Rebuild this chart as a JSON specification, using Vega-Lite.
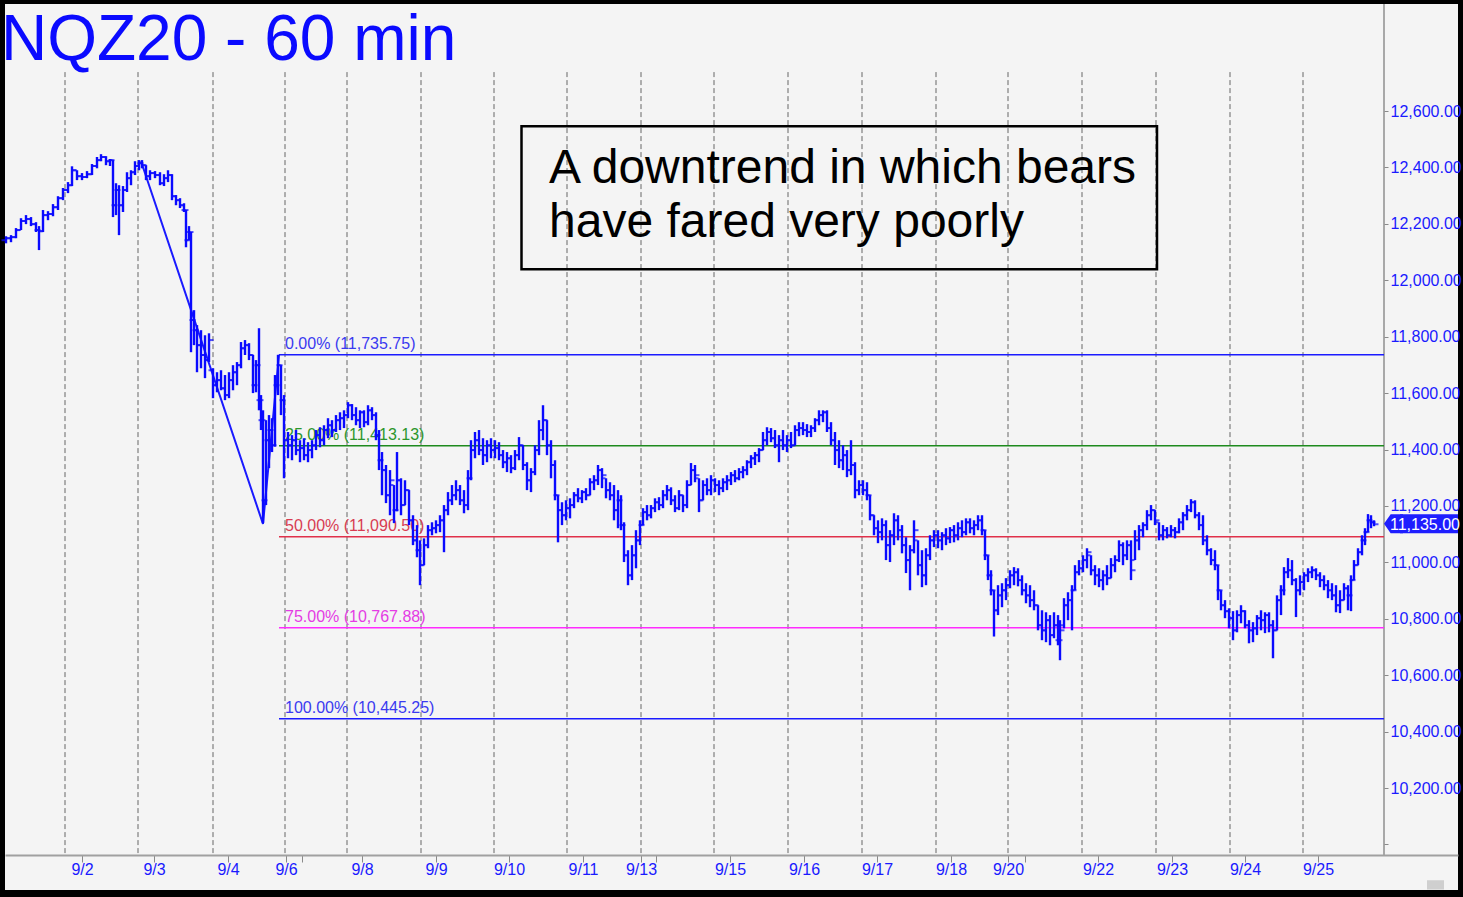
{
"$schema": "https://vega.github.io/schema/vega-lite/v6.json",
"width": 1453, "height": 886,
"autosize": {"type": "none"},
"padding": {"left": 5, "top": 4, "right": 5, "bottom": 7},
"background": "#000000",
"config": {"view": {"fill": "#f4f4f4", "stroke": null}, "font": "Liberation Sans"},
"resolve": {"axis": {"x": "independent", "y": "independent"}},
"datasets": {
"days": [{"t":65},{"t":138},{"t":213},{"t":285},{"t":347},{"t":421},{"t":494},{"t":567},{"t":641},{"t":714},{"t":788},{"t":862},{"t":936},{"t":1008},{"t":1082},{"t":1156},{"t":1230},{"t":1303}],
"fib": [{"level":"0.00%","price":11735.75,"label":"0.00% (11,735.75)"},{"level":"25.00%","price":11413.13,"label":"25.00% (11,413.13)"},{"level":"50.00%","price":11090.5,"label":"50.00% (11,090.50)"},{"level":"75.00%","price":10767.88,"label":"75.00% (10,767.88)"},{"level":"100.00%","price":10445.25,"label":"100.00% (10,445.25)"}],
"zig": [{"t":141,"p":12422},{"t":263,"p":11136},{"t":279,"p":11735.75}],
"bars": [
{"t":6,"o":12142,"h":12156,"l":12131,"c":12149},
{"t":11,"o":12149,"h":12160,"l":12135,"c":12153},
{"t":16,"o":12153,"h":12185,"l":12149,"c":12178},
{"t":21,"o":12178,"h":12220,"l":12178,"c":12210},
{"t":26,"o":12210,"h":12231,"l":12199,"c":12217},
{"t":31,"o":12217,"h":12224,"l":12192,"c":12199},
{"t":36,"o":12199,"h":12206,"l":12171,"c":12178},
{"t":39,"o":12178,"h":12192,"l":12107,"c":12174},
{"t":43,"o":12174,"h":12249,"l":12171,"c":12231},
{"t":48,"o":12231,"h":12245,"l":12213,"c":12235},
{"t":53,"o":12235,"h":12270,"l":12227,"c":12259},
{"t":58,"o":12259,"h":12298,"l":12249,"c":12291},
{"t":63,"o":12291,"h":12327,"l":12284,"c":12320},
{"t":68,"o":12320,"h":12348,"l":12309,"c":12337},
{"t":72,"o":12337,"h":12404,"l":12334,"c":12390},
{"t":77,"o":12390,"h":12390,"l":12355,"c":12369},
{"t":82,"o":12369,"h":12380,"l":12355,"c":12366},
{"t":87,"o":12366,"h":12387,"l":12362,"c":12376},
{"t":92,"o":12376,"h":12412,"l":12373,"c":12405},
{"t":97,"o":12405,"h":12437,"l":12397,"c":12426},
{"t":101,"o":12426,"h":12447,"l":12422,"c":12437},
{"t":106,"o":12437,"h":12440,"l":12408,"c":12422},
{"t":110,"o":12422,"h":12430,"l":12405,"c":12426},
{"t":113,"o":12426,"h":12426,"l":12224,"c":12266},
{"t":116,"o":12266,"h":12344,"l":12231,"c":12320},
{"t":119,"o":12320,"h":12337,"l":12160,"c":12266},
{"t":123,"o":12266,"h":12334,"l":12242,"c":12320},
{"t":127,"o":12320,"h":12383,"l":12313,"c":12362},
{"t":131,"o":12362,"h":12390,"l":12337,"c":12383},
{"t":135,"o":12383,"h":12422,"l":12373,"c":12405},
{"t":139,"o":12405,"h":12426,"l":12390,"c":12415},
{"t":142,"o":12415,"h":12426,"l":12397,"c":12408},
{"t":146,"o":12408,"h":12408,"l":12355,"c":12369},
{"t":150,"o":12369,"h":12390,"l":12355,"c":12380},
{"t":155,"o":12380,"h":12387,"l":12362,"c":12373},
{"t":160,"o":12373,"h":12383,"l":12337,"c":12344},
{"t":164,"o":12344,"h":12376,"l":12334,"c":12362},
{"t":168,"o":12362,"h":12390,"l":12348,"c":12373},
{"t":172,"o":12373,"h":12376,"l":12284,"c":12298},
{"t":176,"o":12298,"h":12302,"l":12266,"c":12284},
{"t":180,"o":12284,"h":12291,"l":12256,"c":12266},
{"t":184,"o":12266,"h":12273,"l":12242,"c":12249},
{"t":186,"o":12249,"h":12249,"l":12117,"c":12142},
{"t":189,"o":12142,"h":12192,"l":12142,"c":12171},
{"t":191,"o":12171,"h":12171,"l":11745,"c":11859},
{"t":194,"o":11859,"h":11894,"l":11770,"c":11823},
{"t":197,"o":11823,"h":11841,"l":11674,"c":11770},
{"t":201,"o":11770,"h":11823,"l":11688,"c":11735},
{"t":205,"o":11735,"h":11805,"l":11653,"c":11717},
{"t":209,"o":11717,"h":11812,"l":11710,"c":11788},
{"t":213,"o":11681,"h":11688,"l":11582,"c":11628},
{"t":217,"o":11628,"h":11674,"l":11603,"c":11646},
{"t":221,"o":11646,"h":11681,"l":11610,"c":11617},
{"t":225,"o":11617,"h":11664,"l":11575,"c":11593},
{"t":229,"o":11593,"h":11674,"l":11582,"c":11646},
{"t":233,"o":11646,"h":11699,"l":11610,"c":11674},
{"t":237,"o":11674,"h":11710,"l":11628,"c":11699},
{"t":241,"o":11699,"h":11781,"l":11688,"c":11759},
{"t":245,"o":11759,"h":11788,"l":11735,"c":11770},
{"t":249,"o":11770,"h":11777,"l":11717,"c":11735},
{"t":253,"o":11735,"h":11735,"l":11600,"c":11628},
{"t":256,"o":11628,"h":11717,"l":11603,"c":11699},
{"t":259,"o":11699,"h":11830,"l":11539,"c":11575},
{"t":261,"o":11575,"h":11593,"l":11469,"c":11504},
{"t":263,"o":11504,"h":11539,"l":11139,"c":11220},
{"t":266,"o":11220,"h":11504,"l":11203,"c":11433},
{"t":269,"o":11433,"h":11522,"l":11334,"c":11469},
{"t":272,"o":11469,"h":11511,"l":11391,"c":11415},
{"t":275,"o":11415,"h":11664,"l":11410,"c":11628},
{"t":278,"o":11628,"h":11735.75,"l":11593,"c":11699},
{"t":281,"o":11699,"h":11699,"l":11522,"c":11575},
{"t":284,"o":11575,"h":11593,"l":11298,"c":11433},
{"t":288,"o":11433,"h":11462,"l":11369,"c":11415},
{"t":292,"o":11415,"h":11451,"l":11362,"c":11433},
{"t":296,"o":11433,"h":11469,"l":11380,"c":11398},
{"t":300,"o":11398,"h":11433,"l":11355,"c":11405},
{"t":304,"o":11405,"h":11440,"l":11362,"c":11380},
{"t":308,"o":11380,"h":11426,"l":11355,"c":11398},
{"t":312,"o":11398,"h":11433,"l":11369,"c":11415},
{"t":316,"o":11415,"h":11469,"l":11398,"c":11451},
{"t":320,"o":11451,"h":11479,"l":11408,"c":11433},
{"t":324,"o":11433,"h":11486,"l":11415,"c":11469},
{"t":328,"o":11469,"h":11511,"l":11440,"c":11486},
{"t":332,"o":11486,"h":11504,"l":11444,"c":11469},
{"t":336,"o":11469,"h":11522,"l":11462,"c":11504},
{"t":340,"o":11504,"h":11532,"l":11469,"c":11511},
{"t":344,"o":11511,"h":11539,"l":11476,"c":11522},
{"t":348,"o":11522,"h":11568,"l":11511,"c":11557},
{"t":352,"o":11557,"h":11561,"l":11504,"c":11522},
{"t":356,"o":11522,"h":11550,"l":11486,"c":11504},
{"t":360,"o":11504,"h":11539,"l":11476,"c":11532},
{"t":364,"o":11532,"h":11539,"l":11479,"c":11497},
{"t":368,"o":11497,"h":11557,"l":11486,"c":11539},
{"t":372,"o":11539,"h":11550,"l":11504,"c":11522},
{"t":376,"o":11522,"h":11532,"l":11433,"c":11451},
{"t":379,"o":11451,"h":11469,"l":11327,"c":11362},
{"t":382,"o":11362,"h":11391,"l":11238,"c":11327},
{"t":386,"o":11327,"h":11345,"l":11210,"c":11238},
{"t":390,"o":11238,"h":11327,"l":11167,"c":11291},
{"t":394,"o":11274,"h":11274,"l":11139,"c":11185},
{"t":397,"o":11185,"h":11391,"l":11181,"c":11291},
{"t":401,"o":11291,"h":11298,"l":11167,"c":11203},
{"t":405,"o":11203,"h":11291,"l":11203,"c":11256},
{"t":409,"o":11256,"h":11256,"l":11132,"c":11149},
{"t":413,"o":11149,"h":11167,"l":11061,"c":11078},
{"t":417,"o":11078,"h":11132,"l":11018,"c":11043},
{"t":420,"o":11043,"h":11078,"l":10919,"c":10990},
{"t":424,"o":10990,"h":11085,"l":10990,"c":11061},
{"t":428,"o":11061,"h":11132,"l":11050,"c":11114},
{"t":432,"o":11114,"h":11142,"l":11096,"c":11121},
{"t":436,"o":11121,"h":11149,"l":11103,"c":11132},
{"t":440,"o":11132,"h":11167,"l":11107,"c":11149},
{"t":444,"o":11149,"h":11203,"l":11036,"c":11185},
{"t":448,"o":11185,"h":11249,"l":11167,"c":11220},
{"t":452,"o":11220,"h":11274,"l":11203,"c":11238},
{"t":456,"o":11238,"h":11291,"l":11220,"c":11256},
{"t":460,"o":11256,"h":11274,"l":11203,"c":11220},
{"t":464,"o":11220,"h":11256,"l":11174,"c":11203},
{"t":468,"o":11203,"h":11327,"l":11185,"c":11298},
{"t":471,"o":11298,"h":11433,"l":11291,"c":11398},
{"t":475,"o":11398,"h":11462,"l":11369,"c":11433},
{"t":479,"o":11433,"h":11469,"l":11380,"c":11398},
{"t":483,"o":11398,"h":11440,"l":11345,"c":11380},
{"t":487,"o":11380,"h":11433,"l":11355,"c":11415},
{"t":491,"o":11415,"h":11440,"l":11369,"c":11398},
{"t":495,"o":11398,"h":11433,"l":11369,"c":11405},
{"t":499,"o":11405,"h":11426,"l":11362,"c":11380},
{"t":503,"o":11380,"h":11398,"l":11334,"c":11355},
{"t":507,"o":11355,"h":11391,"l":11320,"c":11369},
{"t":511,"o":11369,"h":11380,"l":11316,"c":11334},
{"t":515,"o":11334,"h":11398,"l":11327,"c":11380},
{"t":519,"o":11380,"h":11444,"l":11362,"c":11415},
{"t":523,"o":11415,"h":11415,"l":11327,"c":11345},
{"t":527,"o":11345,"h":11355,"l":11256,"c":11291},
{"t":531,"o":11291,"h":11334,"l":11249,"c":11320},
{"t":535,"o":11320,"h":11415,"l":11309,"c":11398},
{"t":539,"o":11398,"h":11504,"l":11380,"c":11469},
{"t":543,"o":11469,"h":11557,"l":11433,"c":11504},
{"t":547,"o":11504,"h":11504,"l":11380,"c":11415},
{"t":551,"o":11415,"h":11433,"l":11298,"c":11345},
{"t":555,"o":11345,"h":11362,"l":11220,"c":11238},
{"t":558,"o":11238,"h":11238,"l":11071,"c":11185},
{"t":562,"o":11185,"h":11213,"l":11132,"c":11167},
{"t":566,"o":11167,"h":11220,"l":11149,"c":11192},
{"t":570,"o":11192,"h":11227,"l":11156,"c":11203},
{"t":574,"o":11203,"h":11249,"l":11192,"c":11238},
{"t":578,"o":11238,"h":11263,"l":11213,"c":11227},
{"t":582,"o":11227,"h":11256,"l":11210,"c":11249},
{"t":586,"o":11249,"h":11263,"l":11220,"c":11238},
{"t":590,"o":11238,"h":11298,"l":11238,"c":11284},
{"t":594,"o":11284,"h":11309,"l":11256,"c":11291},
{"t":598,"o":11291,"h":11345,"l":11274,"c":11327},
{"t":602,"o":11327,"h":11334,"l":11263,"c":11309},
{"t":606,"o":11298,"h":11298,"l":11227,"c":11256},
{"t":610,"o":11256,"h":11284,"l":11220,"c":11238},
{"t":614,"o":11238,"h":11274,"l":11149,"c":11185},
{"t":618,"o":11185,"h":11256,"l":11121,"c":11220},
{"t":621,"o":11220,"h":11238,"l":11114,"c":11132},
{"t":624,"o":11132,"h":11142,"l":11001,"c":11025},
{"t":628,"o":11025,"h":11043,"l":10919,"c":10954},
{"t":632,"o":10954,"h":11061,"l":10937,"c":11025},
{"t":636,"o":11025,"h":11114,"l":10979,"c":11078},
{"t":640,"o":11078,"h":11149,"l":11061,"c":11132},
{"t":643,"o":11132,"h":11192,"l":11132,"c":11178},
{"t":647,"o":11178,"h":11203,"l":11149,"c":11167},
{"t":651,"o":11167,"h":11203,"l":11156,"c":11192},
{"t":655,"o":11192,"h":11227,"l":11178,"c":11213},
{"t":659,"o":11213,"h":11231,"l":11185,"c":11203},
{"t":663,"o":11203,"h":11256,"l":11192,"c":11238},
{"t":667,"o":11238,"h":11274,"l":11220,"c":11256},
{"t":671,"o":11256,"h":11266,"l":11203,"c":11220},
{"t":675,"o":11220,"h":11238,"l":11178,"c":11192},
{"t":679,"o":11192,"h":11256,"l":11185,"c":11238},
{"t":683,"o":11238,"h":11238,"l":11178,"c":11203},
{"t":687,"o":11203,"h":11291,"l":11192,"c":11274},
{"t":691,"o":11274,"h":11352,"l":11274,"c":11327},
{"t":695,"o":11327,"h":11345,"l":11284,"c":11309},
{"t":699,"o":11298,"h":11298,"l":11178,"c":11220},
{"t":703,"o":11220,"h":11291,"l":11220,"c":11274},
{"t":707,"o":11274,"h":11298,"l":11238,"c":11256},
{"t":711,"o":11256,"h":11309,"l":11238,"c":11291},
{"t":715,"o":11291,"h":11298,"l":11249,"c":11274},
{"t":719,"o":11274,"h":11291,"l":11238,"c":11263},
{"t":723,"o":11263,"h":11298,"l":11249,"c":11284},
{"t":727,"o":11284,"h":11309,"l":11256,"c":11291},
{"t":731,"o":11291,"h":11320,"l":11274,"c":11309},
{"t":735,"o":11309,"h":11327,"l":11284,"c":11298},
{"t":739,"o":11298,"h":11334,"l":11291,"c":11320},
{"t":743,"o":11320,"h":11341,"l":11298,"c":11327},
{"t":747,"o":11327,"h":11362,"l":11309,"c":11355},
{"t":751,"o":11355,"h":11380,"l":11334,"c":11369},
{"t":755,"o":11369,"h":11391,"l":11345,"c":11380},
{"t":759,"o":11380,"h":11405,"l":11355,"c":11398},
{"t":763,"o":11398,"h":11462,"l":11398,"c":11433},
{"t":767,"o":11433,"h":11479,"l":11415,"c":11462},
{"t":771,"o":11462,"h":11476,"l":11426,"c":11440},
{"t":775,"o":11440,"h":11469,"l":11405,"c":11415},
{"t":779,"o":11415,"h":11451,"l":11355,"c":11433},
{"t":783,"o":11433,"h":11469,"l":11398,"c":11415},
{"t":787,"o":11415,"h":11451,"l":11391,"c":11433},
{"t":791,"o":11433,"h":11462,"l":11405,"c":11415},
{"t":795,"o":11415,"h":11486,"l":11415,"c":11469},
{"t":799,"o":11469,"h":11497,"l":11447,"c":11476},
{"t":803,"o":11476,"h":11497,"l":11451,"c":11469},
{"t":807,"o":11469,"h":11490,"l":11444,"c":11462},
{"t":811,"o":11462,"h":11486,"l":11444,"c":11476},
{"t":815,"o":11476,"h":11511,"l":11462,"c":11504},
{"t":819,"o":11504,"h":11539,"l":11486,"c":11522},
{"t":823,"o":11522,"h":11539,"l":11497,"c":11532},
{"t":827,"o":11532,"h":11539,"l":11462,"c":11476},
{"t":831,"o":11476,"h":11497,"l":11415,"c":11433},
{"t":835,"o":11433,"h":11462,"l":11345,"c":11398},
{"t":839,"o":11398,"h":11433,"l":11334,"c":11362},
{"t":843,"o":11362,"h":11415,"l":11327,"c":11380},
{"t":847,"o":11380,"h":11398,"l":11302,"c":11327},
{"t":851,"o":11327,"h":11433,"l":11309,"c":11345},
{"t":855,"o":11345,"h":11355,"l":11227,"c":11256},
{"t":859,"o":11256,"h":11291,"l":11238,"c":11274},
{"t":863,"o":11274,"h":11291,"l":11238,"c":11256},
{"t":867,"o":11256,"h":11284,"l":11220,"c":11238},
{"t":870,"o":11238,"h":11238,"l":11149,"c":11167},
{"t":874,"o":11167,"h":11167,"l":11096,"c":11121},
{"t":878,"o":11121,"h":11149,"l":11068,"c":11107},
{"t":882,"o":11107,"h":11156,"l":11078,"c":11132},
{"t":886,"o":11132,"h":11149,"l":11008,"c":11061},
{"t":890,"o":11061,"h":11114,"l":11001,"c":11096},
{"t":894,"o":11096,"h":11174,"l":11061,"c":11149},
{"t":898,"o":11149,"h":11167,"l":11078,"c":11114},
{"t":902,"o":11114,"h":11132,"l":11032,"c":11061},
{"t":906,"o":11061,"h":11089,"l":10962,"c":11008},
{"t":910,"o":11008,"h":11061,"l":10901,"c":11043},
{"t":914,"o":11043,"h":11149,"l":11032,"c":11114},
{"t":918,"o":11078,"h":11078,"l":10954,"c":10990},
{"t":922,"o":10990,"h":11043,"l":10912,"c":10954},
{"t":926,"o":10954,"h":11050,"l":10919,"c":11025},
{"t":930,"o":11025,"h":11096,"l":11008,"c":11078},
{"t":934,"o":11078,"h":11114,"l":11054,"c":11096},
{"t":938,"o":11096,"h":11114,"l":11050,"c":11078},
{"t":942,"o":11078,"h":11107,"l":11043,"c":11096},
{"t":946,"o":11096,"h":11121,"l":11061,"c":11085},
{"t":950,"o":11085,"h":11125,"l":11068,"c":11114},
{"t":954,"o":11114,"h":11132,"l":11071,"c":11096},
{"t":958,"o":11096,"h":11142,"l":11078,"c":11121},
{"t":962,"o":11121,"h":11149,"l":11089,"c":11107},
{"t":966,"o":11107,"h":11156,"l":11096,"c":11142},
{"t":970,"o":11142,"h":11156,"l":11103,"c":11121},
{"t":974,"o":11121,"h":11149,"l":11096,"c":11132},
{"t":978,"o":11132,"h":11167,"l":11114,"c":11149},
{"t":982,"o":11149,"h":11167,"l":11096,"c":11114},
{"t":985,"o":11114,"h":11114,"l":11008,"c":11025},
{"t":988,"o":11025,"h":11025,"l":10937,"c":10954},
{"t":991,"o":10954,"h":10972,"l":10883,"c":10901},
{"t":994,"o":10901,"h":10901,"l":10737,"c":10830},
{"t":998,"o":10830,"h":10919,"l":10813,"c":10883},
{"t":1002,"o":10883,"h":10926,"l":10841,"c":10901},
{"t":1006,"o":10901,"h":10944,"l":10866,"c":10919},
{"t":1010,"o":10919,"h":10972,"l":10908,"c":10954},
{"t":1014,"o":10954,"h":10983,"l":10919,"c":10965},
{"t":1018,"o":10965,"h":10979,"l":10915,"c":10937},
{"t":1022,"o":10937,"h":10954,"l":10883,"c":10901},
{"t":1026,"o":10901,"h":10926,"l":10855,"c":10883},
{"t":1030,"o":10883,"h":10919,"l":10841,"c":10866},
{"t":1034,"o":10866,"h":10901,"l":10830,"c":10848},
{"t":1038,"o":10848,"h":10848,"l":10759,"c":10777},
{"t":1042,"o":10777,"h":10830,"l":10724,"c":10759},
{"t":1046,"o":10759,"h":10823,"l":10717,"c":10795},
{"t":1050,"o":10795,"h":10813,"l":10706,"c":10742},
{"t":1054,"o":10742,"h":10823,"l":10731,"c":10777},
{"t":1058,"o":10777,"h":10813,"l":10706,"c":10724},
{"t":1060,"o":10724,"h":10795,"l":10653,"c":10759},
{"t":1064,"o":10777,"h":10873,"l":10766,"c":10848},
{"t":1068,"o":10848,"h":10894,"l":10795,"c":10866},
{"t":1072,"o":10866,"h":10919,"l":10759,"c":10901},
{"t":1075,"o":10901,"h":10990,"l":10901,"c":10965},
{"t":1079,"o":10965,"h":11008,"l":10954,"c":10979},
{"t":1083,"o":10979,"h":11025,"l":10965,"c":11008},
{"t":1087,"o":11008,"h":11050,"l":10979,"c":11036},
{"t":1091,"o":11025,"h":11025,"l":10954,"c":10972},
{"t":1095,"o":10972,"h":10990,"l":10919,"c":10954},
{"t":1099,"o":10954,"h":10979,"l":10912,"c":10937},
{"t":1103,"o":10937,"h":10972,"l":10901,"c":10954},
{"t":1107,"o":10954,"h":10990,"l":10919,"c":10944},
{"t":1111,"o":10944,"h":11015,"l":10944,"c":10990},
{"t":1115,"o":10990,"h":11025,"l":10965,"c":11008},
{"t":1119,"o":11008,"h":11078,"l":11001,"c":11061},
{"t":1123,"o":11061,"h":11071,"l":10990,"c":11025},
{"t":1127,"o":11025,"h":11078,"l":11008,"c":11061},
{"t":1131,"o":11061,"h":11078,"l":10937,"c":10972},
{"t":1135,"o":11008,"h":11114,"l":11008,"c":11078},
{"t":1139,"o":11078,"h":11132,"l":11043,"c":11114},
{"t":1143,"o":11114,"h":11142,"l":11089,"c":11132},
{"t":1147,"o":11132,"h":11185,"l":11114,"c":11167},
{"t":1151,"o":11167,"h":11203,"l":11149,"c":11185},
{"t":1155,"o":11185,"h":11185,"l":11132,"c":11149},
{"t":1159,"o":11142,"h":11142,"l":11078,"c":11096},
{"t":1163,"o":11096,"h":11132,"l":11078,"c":11114},
{"t":1167,"o":11114,"h":11125,"l":11085,"c":11096},
{"t":1171,"o":11096,"h":11132,"l":11089,"c":11114},
{"t":1175,"o":11114,"h":11125,"l":11085,"c":11107},
{"t":1179,"o":11107,"h":11156,"l":11103,"c":11142},
{"t":1183,"o":11142,"h":11178,"l":11114,"c":11167},
{"t":1187,"o":11167,"h":11203,"l":11149,"c":11185},
{"t":1191,"o":11185,"h":11224,"l":11178,"c":11213},
{"t":1195,"o":11213,"h":11220,"l":11156,"c":11167},
{"t":1199,"o":11167,"h":11178,"l":11114,"c":11132},
{"t":1203,"o":11132,"h":11167,"l":11061,"c":11078},
{"t":1207,"o":11078,"h":11096,"l":11025,"c":11043},
{"t":1211,"o":11043,"h":11050,"l":10990,"c":11008},
{"t":1215,"o":11008,"h":11043,"l":10972,"c":10990},
{"t":1218,"o":10990,"h":10990,"l":10866,"c":10901},
{"t":1221,"o":10901,"h":10901,"l":10830,"c":10848},
{"t":1225,"o":10848,"h":10866,"l":10802,"c":10827},
{"t":1229,"o":10827,"h":10837,"l":10766,"c":10802},
{"t":1233,"o":10802,"h":10827,"l":10724,"c":10759},
{"t":1237,"o":10759,"h":10830,"l":10752,"c":10813},
{"t":1241,"o":10813,"h":10848,"l":10784,"c":10827},
{"t":1245,"o":10827,"h":10830,"l":10766,"c":10777},
{"t":1249,"o":10777,"h":10795,"l":10713,"c":10759},
{"t":1253,"o":10759,"h":10788,"l":10717,"c":10766},
{"t":1257,"o":10766,"h":10813,"l":10742,"c":10802},
{"t":1261,"o":10802,"h":10830,"l":10759,"c":10795},
{"t":1265,"o":10795,"h":10823,"l":10749,"c":10813},
{"t":1269,"o":10813,"h":10823,"l":10752,"c":10777},
{"t":1273,"o":10777,"h":10795,"l":10660,"c":10759},
{"t":1277,"o":10759,"h":10883,"l":10759,"c":10866},
{"t":1281,"o":10866,"h":10919,"l":10813,"c":10901},
{"t":1284,"o":10901,"h":10983,"l":10883,"c":10965},
{"t":1288,"o":10965,"h":11015,"l":10944,"c":10972},
{"t":1292,"o":10972,"h":11008,"l":10919,"c":10937},
{"t":1296,"o":10937,"h":10944,"l":10806,"c":10901},
{"t":1300,"o":10901,"h":10954,"l":10883,"c":10930},
{"t":1304,"o":10930,"h":10965,"l":10901,"c":10954},
{"t":1308,"o":10954,"h":10979,"l":10930,"c":10965},
{"t":1312,"o":10965,"h":10986,"l":10944,"c":10972},
{"t":1316,"o":10972,"h":10979,"l":10937,"c":10954},
{"t":1320,"o":10954,"h":10965,"l":10912,"c":10937},
{"t":1324,"o":10937,"h":10954,"l":10901,"c":10919},
{"t":1328,"o":10919,"h":10937,"l":10873,"c":10901},
{"t":1332,"o":10901,"h":10926,"l":10866,"c":10883},
{"t":1336,"o":10883,"h":10919,"l":10823,"c":10848},
{"t":1340,"o":10848,"h":10901,"l":10820,"c":10866},
{"t":1344,"o":10866,"h":10926,"l":10866,"c":10908},
{"t":1348,"o":10908,"h":10919,"l":10830,"c":10883},
{"t":1351,"o":10883,"h":10954,"l":10827,"c":10937},
{"t":1354,"o":10937,"h":11008,"l":10937,"c":10990},
{"t":1358,"o":10990,"h":11050,"l":10990,"c":11036},
{"t":1362,"o":11036,"h":11096,"l":11025,"c":11078},
{"t":1365,"o":11078,"h":11121,"l":11061,"c":11107},
{"t":1368,"o":11107,"h":11171,"l":11107,"c":11149},
{"t":1371,"o":11149,"h":11167,"l":11121,"c":11142},
{"t":1374,"o":11142,"h":11149,"l":11128,"c":11135}
]
},
"layer": [
{"data": {"name": "days"},
 "mark": {"type": "rule", "color": "#666666", "strokeWidth": 1, "strokeDash": [5, 3]},
 "encoding": {
  "x": {"field": "t", "type": "quantitative", "scale": {"domain": [5, 1458], "nice": false, "zero": false}, "axis": null},
  "y": {"datum": 12738, "type": "quantitative", "scale": {"domain": [9838.4, 12979.4], "nice": false, "zero": false}, "axis": null},
  "y2": {"datum": 9962}
 }},
{"data": {"values": [{}]},
 "mark": {"type": "rule", "color": "#a8a8a8", "strokeWidth": 2},
 "encoding": {
  "x": {"datum": 1384, "type": "quantitative", "scale": {"domain": [5, 1458], "nice": false, "zero": false}, "axis": null},
  "y": {"datum": 12979.4, "type": "quantitative", "scale": {"domain": [9838.4, 12979.4], "nice": false, "zero": false}, "axis": null},
  "y2": {"datum": 9962}
 }},
{"data": {"name": "fib"},
 "mark": {"type": "rule", "strokeWidth": 1.5},
 "encoding": {
  "x": {"datum": 279, "type": "quantitative", "scale": {"domain": [5, 1458], "nice": false, "zero": false}, "axis": null},
  "x2": {"datum": 1384},
  "y": {"field": "price", "type": "quantitative", "scale": {"domain": [9838.4, 12979.4], "nice": false, "zero": false}, "axis": null},
  "stroke": {"field": "level", "type": "nominal", "scale": {"domain": ["0.00%", "25.00%", "50.00%", "75.00%", "100.00%"], "range": ["#1a1aff", "#1e8a1e", "#e0304a", "#ff2aff", "#1a1aff"]}, "legend": null}
 }},
{"data": {"name": "fib"},
 "mark": {"type": "text", "align": "left", "baseline": "alphabetic", "dy": -6, "fontSize": 16, "font": "Liberation Sans"},
 "encoding": {
  "x": {"datum": 285, "type": "quantitative", "scale": {"domain": [5, 1458], "nice": false, "zero": false}, "axis": null},
  "y": {"field": "price", "type": "quantitative", "scale": {"domain": [9838.4, 12979.4], "nice": false, "zero": false}, "axis": null},
  "text": {"field": "label"},
  "fill": {"field": "level", "type": "nominal", "scale": {"domain": ["0.00%", "25.00%", "50.00%", "75.00%", "100.00%"], "range": ["#3a3af0", "#2c962c", "#d83c52", "#e43ce4", "#3a3af0"]}, "legend": null}
 }},
{"data": {"name": "zig"},
 "mark": {"type": "line", "color": "#1a1aff", "strokeWidth": 2},
 "encoding": {
  "x": {"field": "t", "type": "quantitative", "scale": {"domain": [5, 1458], "nice": false, "zero": false}, "axis": null},
  "y": {"field": "p", "type": "quantitative", "scale": {"domain": [9838.4, 12979.4], "nice": false, "zero": false}, "axis": null}
 }},
{"data": {"name": "bars"},
 "mark": {"type": "rule", "color": "#0a0aff", "strokeWidth": 2.4},
 "encoding": {
  "x": {"field": "t", "type": "quantitative", "scale": {"domain": [5, 1458], "nice": false, "zero": false},
   "axis": {"orient": "bottom", "offset": -35, "title": null, "grid": false,
    "values": [82, 154, 228, 286, 302, 362, 436, 509, 583, 641, 656, 730, 804, 877, 951, 1008, 1025, 1098, 1172, 1245, 1318],
    "labelExpr": "datum.value == 82 ? '9/2' : datum.value == 154 ? '9/3' : datum.value == 228 ? '9/4' : datum.value == 286 ? '9/6' : datum.value == 362 ? '9/8' : datum.value == 436 ? '9/9' : datum.value == 509 ? '9/10' : datum.value == 583 ? '9/11' : datum.value == 641 ? '9/13' : datum.value == 730 ? '9/15' : datum.value == 804 ? '9/16' : datum.value == 877 ? '9/17' : datum.value == 951 ? '9/18' : datum.value == 1008 ? '9/20' : datum.value == 1098 ? '9/22' : datum.value == 1172 ? '9/23' : datum.value == 1245 ? '9/24' : datum.value == 1318 ? '9/25' : ''",
    "domainColor": "#a0a0a0", "domainWidth": 2, "tickColor": "#8a8a8a", "tickSize": 7, "tickWidth": 1,
    "labelColor": "#1a1aff", "labelFont": "Liberation Sans", "labelFontSize": 16, "labelPadding": -1,
    "labelOverlap": false, "labelFlush": false, "zindex": 1}},
  "y": {"field": "h", "type": "quantitative", "scale": {"domain": [9838.4, 12979.4], "nice": false, "zero": false},
   "axis": {"orient": "right", "offset": -74, "title": null, "grid": false, "domain": false,
    "values": [10000, 10200, 10400, 10600, 10800, 11000, 11200, 11400, 11600, 11800, 12000, 12200, 12400, 12600],
    "labelExpr": "datum.value < 10100 ? '' : format(datum.value, ',.2f')",
    "tickColor": "#8a8a8a", "tickSize": 4, "tickWidth": 1,
    "labelColor": "#1a1aff", "labelFont": "Liberation Sans", "labelFontSize": 16, "labelPadding": 2,
    "labelOverlap": false, "labelFlush": false, "labelBaseline": "middle", "zindex": 1}},
  "y2": {"field": "l"}
 }},
{"data": {"name": "bars"},
 "mark": {"type": "tick", "orient": "horizontal", "color": "#0a0aff", "size": 4, "thickness": 2, "xOffset": -2.5},
 "encoding": {
  "x": {"field": "t", "type": "quantitative", "scale": {"domain": [5, 1458], "nice": false, "zero": false}, "axis": null},
  "y": {"field": "o", "type": "quantitative", "scale": {"domain": [9838.4, 12979.4], "nice": false, "zero": false}, "axis": null}
 }},
{"data": {"name": "bars"},
 "mark": {"type": "tick", "orient": "horizontal", "color": "#0a0aff", "size": 4, "thickness": 2, "xOffset": 2.5},
 "encoding": {
  "x": {"field": "t", "type": "quantitative", "scale": {"domain": [5, 1458], "nice": false, "zero": false}, "axis": null},
  "y": {"field": "c", "type": "quantitative", "scale": {"domain": [9838.4, 12979.4], "nice": false, "zero": false}, "axis": null}
 }},
{"data": {"values": [{}]},
 "mark": {"type": "text", "text": "NQZ20 - 60 min", "align": "left", "baseline": "alphabetic", "fontSize": 64, "font": "Liberation Sans", "color": "#0a0aff"},
 "encoding": {
  "x": {"datum": 1, "type": "quantitative", "scale": {"domain": [5, 1458], "nice": false, "zero": false}, "axis": null},
  "y": {"datum": 12780, "type": "quantitative", "scale": {"domain": [9838.4, 12979.4], "nice": false, "zero": false}, "axis": null}
 }},
{"data": {"values": [{}]},
 "mark": {"type": "rect", "fill": "#f4f4f4", "fillOpacity": 0, "stroke": "#000000", "strokeWidth": 2.5},
 "encoding": {
  "x": {"datum": 521.5, "type": "quantitative", "scale": {"domain": [5, 1458], "nice": false, "zero": false}, "axis": null},
  "x2": {"datum": 1157},
  "y": {"datum": 12546.3, "type": "quantitative", "scale": {"domain": [9838.4, 12979.4], "nice": false, "zero": false}, "axis": null},
  "y2": {"datum": 12039.4}
 }},
{"data": {"values": [{}]},
 "mark": {"type": "text", "text": ["A downtrend in which bears", "have fared very poorly"], "align": "left", "baseline": "alphabetic", "fontSize": 48, "lineHeight": 54, "font": "Liberation Sans", "color": "#000000"},
 "encoding": {
  "x": {"datum": 549, "type": "quantitative", "scale": {"domain": [5, 1458], "nice": false, "zero": false}, "axis": null},
  "y": {"datum": 12344.3, "type": "quantitative", "scale": {"domain": [9838.4, 12979.4], "nice": false, "zero": false}, "axis": null}
 }},
{"data": {"values": [{}]},
 "mark": {"type": "point", "shape": "M -1 0 L -0.3 -1 L 1 -1 L 1 1 L -0.3 1 Z", "size": 361, "filled": true, "opacity": 1, "color": "#1e1eff", "strokeWidth": 0},
 "encoding": {
  "x": {"datum": 1393.5, "type": "quantitative", "scale": {"domain": [5, 1458], "nice": false, "zero": false}, "axis": null},
  "y": {"datum": 11137, "type": "quantitative", "scale": {"domain": [9838.4, 12979.4], "nice": false, "zero": false}, "axis": null}
 }},
{"data": {"values": [{}]},
 "mark": {"type": "rect", "color": "#1e1eff"},
 "encoding": {
  "x": {"datum": 1400, "type": "quantitative", "scale": {"domain": [5, 1458], "nice": false, "zero": false}, "axis": null},
  "x2": {"datum": 1458},
  "y": {"datum": 11170.9, "type": "quantitative", "scale": {"domain": [9838.4, 12979.4], "nice": false, "zero": false}, "axis": null},
  "y2": {"datum": 11103.5}
 }},
{"data": {"values": [{}]},
 "mark": {"type": "text", "text": "11,135.00", "align": "left", "baseline": "middle", "fontSize": 16, "font": "Liberation Sans", "color": "#ffffff", "dy": 1},
 "encoding": {
  "x": {"datum": 1390, "type": "quantitative", "scale": {"domain": [5, 1458], "nice": false, "zero": false}, "axis": null},
  "y": {"datum": 11137, "type": "quantitative", "scale": {"domain": [9838.4, 12979.4], "nice": false, "zero": false}, "axis": null}
 }},
{"data": {"values": [{}]},
 "mark": {"type": "rect", "color": "#cfcfcf"},
 "encoding": {
  "x": {"datum": 1427, "type": "quantitative", "scale": {"domain": [5, 1458], "nice": false, "zero": false}, "axis": null},
  "x2": {"datum": 1444},
  "y": {"datum": 9873, "type": "quantitative", "scale": {"domain": [9838.4, 12979.4], "nice": false, "zero": false}, "axis": null},
  "y2": {"datum": 9840}
 }}
]
}
